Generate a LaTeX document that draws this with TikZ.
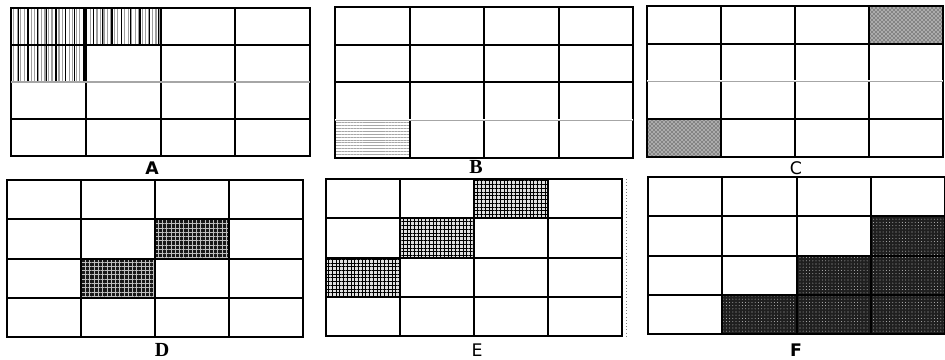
\documentclass[tikz,border=0pt]{standalone}
\usepackage{fontspec}
\newfontfamily\labsans{DejaVu Sans}
\newfontfamily\labserif{Liberation Serif}
\usepackage{tikz}
\usetikzlibrary{patterns}
\usetikzlibrary{patterns.meta}
% 4x4 grid of cells \cw x \ch
\newcommand{\gridfour}{%
  \foreach \k in {1,2,3} {
    \draw[inner] ({\k*\cw},0) -- ({\k*\cw},{4*\ch});
    \draw[inner] (0,{\k*\ch}) -- ({4*\cw},{\k*\ch});
  }
  \draw[border] (0,0) rectangle ({4*\cw},{4*\ch});
}
\newcommand{\patcell}[3]{%
  \fill[#1] ({(#2-1)*\cw},{(#3-1)*\ch}) rectangle ++(\cw,\ch);
}
\newcommand{\faintrow}[1]{%
  \draw[white, inner] (0,{#1*\ch}) -- ({4*\cw},{#1*\ch});
  \draw[faint] (0,{#1*\ch}) -- ({4*\cw},{#1*\ch});
}

\begin{document}
\begin{tikzpicture}[x=0.75pt, y=-0.75pt,
  border/.style={line width=2.2pt},
  inner/.style={line width=1.5pt},
  faint/.style={line width=0.8pt, gray!70},
  vstripes/.style={pattern={Lines[angle=90,distance=2.6pt,line width=0.9pt]}, pattern color=gray!75,
    postaction={pattern={Lines[angle=90,distance=7pt,line width=1pt]}, pattern color=black}},
  hstripes/.style={pattern={Lines[angle=0,distance=2.2pt,line width=0.7pt]}, pattern color=gray!70},
  speckle/.style={fill=gray!65, postaction={pattern=crosshatch dots, pattern color=black}},
  darkmesh/.style={fill=black!90, postaction={pattern={Hatch[angle=0,distance=3.2pt,line width=0.25pt]}, pattern color=gray!50}},
  lightmesh/.style={fill=gray!25, postaction={pattern={Hatch[angle=0,distance=2.8pt,line width=0.6pt]}, pattern color=black}},
  darkdots/.style={fill=black!88, postaction={pattern={Dots[distance=2.4pt,radius=0.4pt]}, pattern color=gray!60}},
  sanslab/.style={font=\labsans\fontsize{13}{15}\selectfont\bfseries},
  seriflab/.style={font=\labserif\fontsize{15}{17}\selectfont\bfseries}]
  \useasboundingbox (0,0) rectangle (945,360);

  % A
  \begin{scope}[shift={(11,8)}]
    \def\cw{74.75} \def\ch{37}
    \patcell{vstripes}{1}{1}
    \patcell{vstripes}{2}{1}
    \patcell{vstripes}{1}{2}
    \gridfour
    \faintrow{2}
  \end{scope}
  \node[sanslab] (labA) at (152,168) {A};

  % B
  \begin{scope}[shift={(335,7)}]
    \def\cw{74.5} \def\ch{37.75}
    \patcell{hstripes}{1}{4}
    \gridfour
    \faintrow{3}
  \end{scope}
  \node[seriflab] (labB) at (476,167) {B};

  % C
  \begin{scope}[shift={(647,6)}]
    \def\cw{74} \def\ch{37.75}
    \patcell{speckle}{4}{1}
    \patcell{speckle}{1}{4}
    \gridfour
    \faintrow{2}
  \end{scope}
  \node[sanslab, font=\labsans\fontsize{13}{15}\selectfont] (labC) at (796,168) {C};

  % D
  \begin{scope}[shift={(7,180)}]
    \def\cw{74} \def\ch{39.25}
    \patcell{darkmesh}{3}{2}
    \patcell{darkmesh}{2}{3}
    \gridfour
  \end{scope}
  \node[seriflab] (labD) at (162,350) {D};

  % E
  \begin{scope}[shift={(326,179)}]
    \def\cw{74} \def\ch{39.25}
    \patcell{lightmesh}{3}{1}
    \patcell{lightmesh}{2}{2}
    \patcell{lightmesh}{1}{3}
    \gridfour
  \end{scope}
  \draw[gray, dotted] (626,179) -- (626,336);
  \node[sanslab, font=\labsans\fontsize{13}{15}\selectfont] (labE) at (477,350) {E};

  % F
  \begin{scope}[shift={(648,177)}]
    \def\cw{74.25} \def\ch{39.25}
    \patcell{darkdots}{2}{4}
    \patcell{darkdots}{3}{3}
    \patcell{darkdots}{3}{4}
    \patcell{darkdots}{4}{2}
    \patcell{darkdots}{4}{3}
    \patcell{darkdots}{4}{4}
    \gridfour
  \end{scope}
  \node[sanslab] (labF) at (796,350) {F};
\end{tikzpicture}
\end{document}
